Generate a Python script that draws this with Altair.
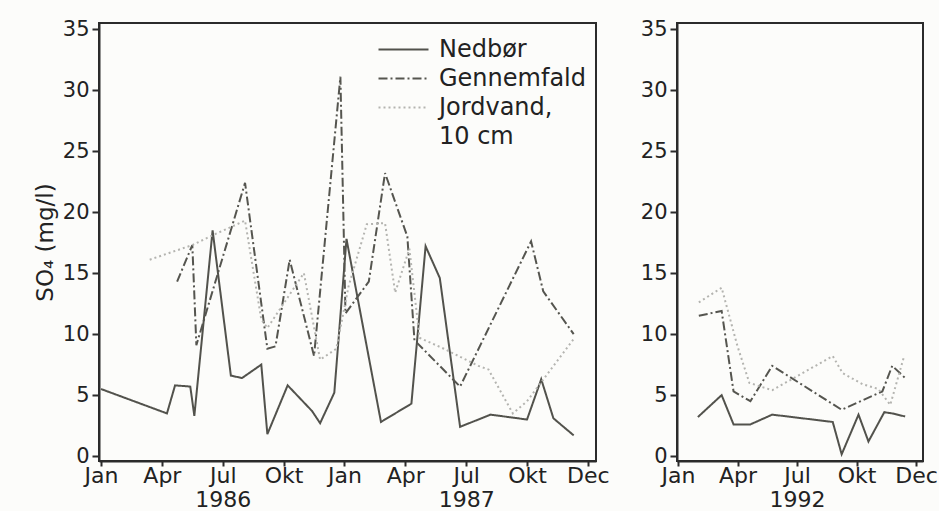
import altair as alt
import pandas as pd

# ---------------- data ----------------
# Panel 1986-1987: x = months since 1 Jan 1986, y = SO4 (mg/l)
nedbor_8687_month = [0, 3.25, 3.65, 4.4, 4.6, 5.5, 6.4, 6.95, 7.9, 8.2, 9.2, 10.4, 10.8,
                     11.5, 12.1, 13.8, 15.3, 16.0, 16.7, 17.7, 19.2, 21.0, 21.7, 22.3, 23.3]
nedbor_8687_so4 = [5.5, 3.5, 5.8, 5.7, 3.3, 18.5, 6.6, 6.4, 7.5, 1.8, 5.8, 3.7, 2.7,
                   5.2, 17.8, 2.8, 4.3, 17.2, 14.6, 2.4, 3.4, 3.0, 6.3, 3.1, 1.7]

gennem_8687_month = [3.75, 4.5, 4.7, 7.1, 8.2, 8.6, 9.3, 10.5, 11.8, 12.05, 13.2, 14.0,
                     15.1, 15.45, 17.7, 21.2, 21.8, 23.3]
gennem_8687_so4 = [14.3, 17.3, 9.1, 22.4, 8.8, 9.0, 16.1, 8.2, 31.1, 11.7, 14.3, 23.2,
                   18.0, 9.5, 5.7, 17.6, 13.5, 10.0]

jord_8687_month = [2.4, 4.5, 5.5, 7.1, 7.9, 8.2, 10.0, 10.8, 11.6, 12.2, 13.1, 14.0,
                   14.5, 15.2, 15.7, 16.9, 18.6, 19.1, 20.3, 21.0, 23.3]
jord_8687_so4 = [16.1, 17.3, 18.1, 19.3, 11.2, 10.5, 15.0, 7.9, 8.8, 13.9, 19.0, 19.1,
                 13.4, 17.0, 9.7, 8.8, 7.4, 7.1, 3.5, 4.5, 9.6]

# Panel 1992: x = months since 1 Jan 1992
nedbor_92_month = [1.0, 2.2, 2.8, 3.65, 4.75, 7.8, 8.25, 9.1, 9.6, 10.4, 10.8, 11.45]
nedbor_92_so4 = [3.2, 5.0, 2.6, 2.6, 3.4, 2.8, 0.15, 3.4, 1.2, 3.6, 3.5, 3.25]

gennem_92_month = [1.05, 2.2, 2.8, 3.65, 4.75, 8.25, 10.3, 10.8, 11.45]
gennem_92_so4 = [11.5, 11.9, 5.3, 4.5, 7.4, 3.8, 5.3, 7.4, 6.4]

jord_92_month = [1.05, 2.2, 3.0, 3.6, 4.75, 7.8, 8.3, 9.3, 10.1, 10.7, 11.4]
jord_92_so4 = [12.6, 13.8, 9.0, 6.0, 5.4, 8.2, 6.8, 5.9, 5.5, 4.2, 8.2]

series_names = ["Nedbør", "Gennemfald", "Jordvand, 10 cm"]
legend_spacer = "10 cm"   # second legend line of "Jordvand, 10 cm"

y_ticks = [0, 5, 10, 15, 20, 25, 30, 35]
x_ticks_8687 = [0, 3, 6, 9, 12, 15, 18, 21, 24]
x_labels_8687 = ["Jan", "Apr", "Jul", "Okt", "Jan", "Apr", "Jul", "Okt", "Dec"]
years_8687 = {6: "1986", 18: "1987"}
x_ticks_92 = [0, 3, 6, 9, 12]
x_labels_92 = ["Jan", "Apr", "Jul", "Okt", "Dec"]
years_92 = {6: "1992"}

y_title = "SO₄  (mg/l)"


# ---------------- helpers ----------------
def frame(name, months, values):
    return pd.DataFrame({"series": name, "month": months, "so4": values,
                         "order": range(len(months))})


def label_expr(ticks, labels, years):
    parts = []
    for t, lab in zip(ticks, labels):
        val = f"['{lab}', '{years[t]}']" if t in years else f"'{lab}'"
        parts.append(f"datum.value == {t} ? {val} : ")
    return "".join(parts) + "''"


df_8687 = pd.concat([
    frame(series_names[0], nedbor_8687_month, nedbor_8687_so4),
    frame(series_names[1], gennem_8687_month, gennem_8687_so4),
    frame(series_names[2], jord_8687_month, jord_8687_so4),
])
df_92 = pd.concat([
    frame(series_names[0], nedbor_92_month, nedbor_92_so4),
    frame(series_names[1], gennem_92_month, gennem_92_so4),
    frame(series_names[2], jord_92_month, jord_92_so4),
])

FONT = "DejaVu Sans"
INK = "#2b2b2b"
domain = series_names + [legend_spacer]
color_range = ["#52524c", "#55554f", "#b4b4b0", "rgba(0,0,0,0)"]
dash_range = [[1, 0], [9, 3, 2, 3], [2, 3], [1, 0]]

legend = alt.Legend(
    title=None, orient="none", legendX=291, legendY=13, padding=0,
    symbolType="M-2,0H2", symbolSize=625, symbolStrokeWidth=2,
    labelFont=FONT, labelFontSize=24, labelColor="#222", labelOffset=22,
    rowPadding=3, labelLimit=300,
    labelExpr="datum.label == 'Jordvand, 10 cm' ? 'Jordvand,' : datum.label",
)

y_left = alt.Y("so4:Q", scale=alt.Scale(domain=[-0.4, 35.5], nice=False, zero=False),
               axis=alt.Axis(values=y_ticks, title=y_title, titleFont=FONT, titleFontSize=23,
                             titleFontWeight="normal", titleColor="#222", titlePadding=5))
y_right = alt.Y("so4:Q", scale=alt.Scale(domain=[-0.4, 35.5], nice=False, zero=False),
                axis=alt.Axis(values=y_ticks, title=None))

left = alt.Chart(df_8687).mark_line(strokeWidth=2).encode(
    x=alt.X("month:Q", scale=alt.Scale(domain=[-0.1, 24.4], nice=False, zero=False),
            axis=alt.Axis(values=x_ticks_8687, title=None,
                          labelExpr=label_expr(x_ticks_8687, x_labels_8687, years_8687))),
    y=y_left,
    color=alt.Color("series:N", scale=alt.Scale(domain=domain, range=color_range), legend=legend),
    strokeDash=alt.StrokeDash("series:N", scale=alt.Scale(domain=domain, range=dash_range),
                              legend=legend),
    order="order:Q",
).properties(width=497, height=438)

right = alt.Chart(df_92).mark_line(strokeWidth=2).encode(
    x=alt.X("month:Q", scale=alt.Scale(domain=[-0.05, 12.35], nice=False, zero=False),
            axis=alt.Axis(values=x_ticks_92, title=None,
                          labelExpr=label_expr(x_ticks_92, x_labels_92, years_92))),
    y=y_right,
    color=alt.Color("series:N", scale=alt.Scale(domain=domain, range=color_range), legend=None),
    strokeDash=alt.StrokeDash("series:N", scale=alt.Scale(domain=domain, range=dash_range),
                              legend=None),
    order="order:Q",
).properties(width=246, height=438)

chart = alt.hconcat(left, right, spacing=28).resolve_scale(
    color="independent", strokeDash="independent"
).resolve_legend(color="independent", strokeDash="independent").properties(
    padding={"left": 33, "top": 17, "right": 0, "bottom": 0},
    background="#fcfcfa",
).configure_view(
    stroke=INK, strokeWidth=2, fill="#fcfcfa"
).configure_axis(
    grid=False, domainColor=INK, domainWidth=2, tickColor=INK, tickWidth=2,
    labelFont=FONT, labelColor="#222", labelFontSize=22,
)
chart = chart.configure_axisY(tickSize=7, labelPadding=3, labelFontSize=21)
chart = chart.configure_axisX(tickSize=5, labelPadding=-1, labelFontSize=22, labelLineHeight=24,
                              labelFlush=False, labelOverlap=False)

chart.save("out.html", embed_options={"renderer": "svg", "actions": False})
